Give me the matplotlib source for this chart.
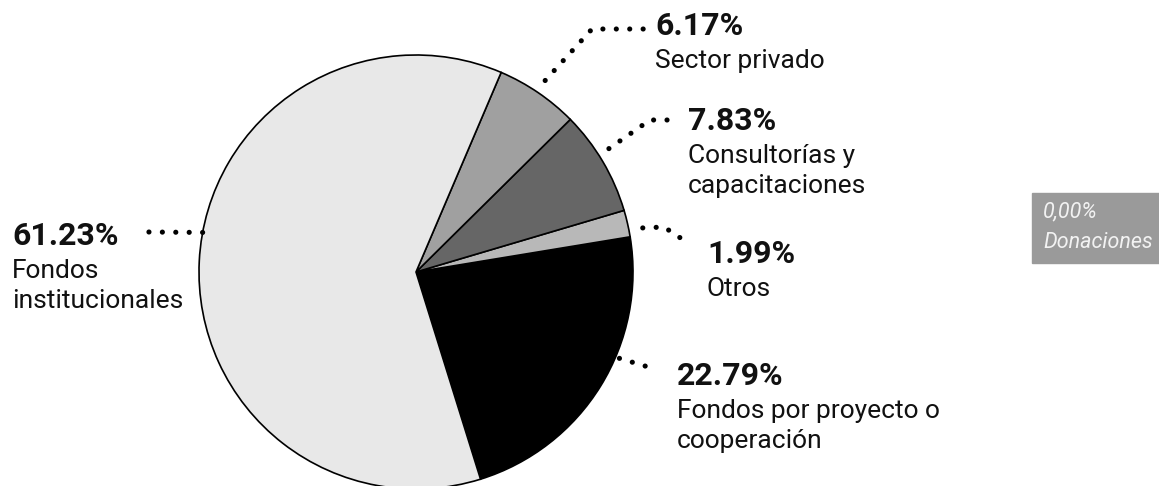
import numpy as np
import matplotlib
matplotlib.use("Agg")
import matplotlib.pyplot as plt

plt.rcParams["font.family"] = ["Roboto", "DejaVu Sans"]

# data (counterclockwise order, starting from the bottom of the black slice)
labels = ["Fondos por proyecto o\ncooperación", "Otros", "Consultorías y\ncapacitaciones",
          "Sector privado", "Fondos\ninstitucionales"]
values = [22.79, 1.99, 7.83, 6.17, 61.23]
pct_text = ["22.79%", "1.99%", "7.83%", "6.17%", "61.23%"]
colors = ["#000000", "#b8b8b8", "#666666", "#a0a0a0", "#e8e8e8"]
extra_label = "0,00%\nDonaciones"

W, H = 1159, 486
CX, CY, R = 416, 272, 217  # pie centre / radius in image pixels
START = -72.7

# label layout: (text x, bold baseline y) in image pixels
label_pos = [(677, 385), (707, 263), (688, 130), (655, 35), (12, 245)]
# leader polylines: anchor angle on the pie, offset from rim, then the remaining points
leader = [
    (-23, 4, [(655, 369)]),
    (11, 14, [(664, 227), (685, 241)]),
    (32.6, 12, [(650, 120), (668, 120)]),
    (56, 14, [(592, 29), (645, 29)]),
    (169.5, 0, [(148, 232)]),
]

fig = plt.figure(figsize=(W / 100, H / 100), dpi=100)
ax = fig.add_axes([0, 0, 1, 1])


def Y(y):
    return H - y


ax.pie(values, colors=colors, startangle=START, counterclock=True,
       center=(CX, Y(CY)), radius=R, frame=True,
       wedgeprops=dict(edgecolor="black", linewidth=1.2))
ax.set_xlim(0, W)
ax.set_ylim(0, H)
ax.axis("off")

for (ang, off, pts), (tx, ty), pct, lab in zip(leader, label_pos, pct_text, labels):
    a = np.deg2rad(ang)
    x0 = CX + (R + off) * np.cos(a)
    y0 = CY - (R + off) * np.sin(a)
    xs = [x0] + [p[0] for p in pts]
    ys = [Y(y0)] + [Y(p[1]) for p in pts]
    ax.plot(xs, ys, color="black", linewidth=3.7, linestyle=(0, (0.01, 2.6)),
            dash_capstyle="round")
    ax.text(tx, Y(ty), pct, fontsize=23, fontweight="bold", va="baseline",
            ha="left", color="#111111")
    for i, line in enumerate(lab.split("\n")):
        ax.text(tx, Y(ty + 33 + 30 * i), line, fontsize=19, va="baseline",
                ha="left", color="#111111")

# zero-value category shown as a grey box on the right
ax.add_patch(plt.Rectangle((1032, Y(263)), 140, 70, color="#9a9a9a", clip_on=False))
for i, line in enumerate(extra_label.split("\n")):
    ax.text(1043, Y(217 + 31 * i), line, fontsize=15.5, style="italic",
            color="#f2f2f2", va="baseline", ha="left")

fig.savefig("out.png", dpi=100)
